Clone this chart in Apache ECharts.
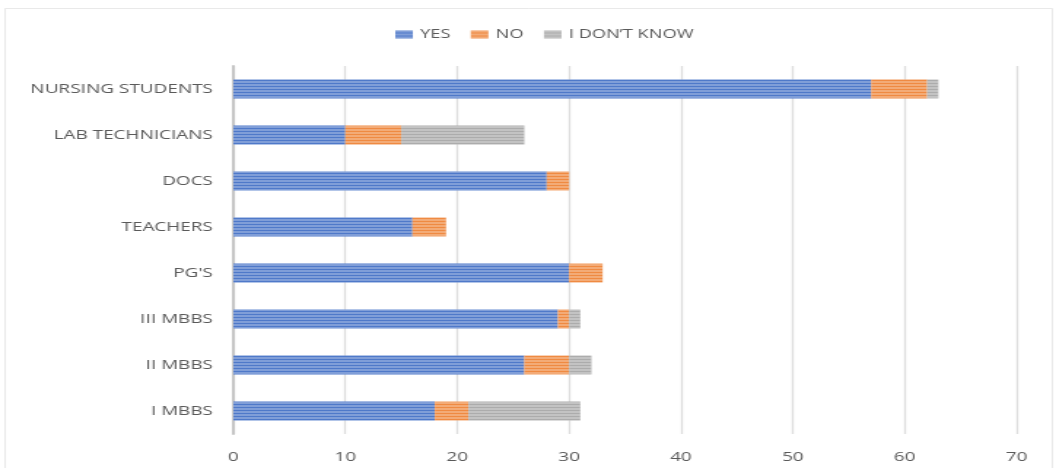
<!DOCTYPE html>
<html>
<head>
<meta charset="utf-8">
<script src="https://cdn.jsdelivr.net/npm/echarts@6/dist/echarts.min.js"></script>
<style>
  html, body { margin: 0; padding: 0; background: #ffffff; overflow: hidden; }
  /* The chart is laid out on a narrower canvas and widened to the page width */
  #chart {
    width: 724px;
    height: 468px;
    transform: scaleX(1.4586);
    transform-origin: 0 0;
  }
</style>
</head>
<body>
<div id="chart"></div>
<script>
// Respondent groups (listed bottom to top as the category axis draws them)
const categories = ['I MBBS', 'II MBBS', 'III MBBS', "PG'S", 'TEACHERS', 'DOCS', 'LAB TECHNICIANS', 'NURSING STUDENTS'];
const yesValues = [18, 26, 29, 30, 16, 28, 10, 57];
const noValues = [3, 4, 1, 3, 3, 2, 5, 5];
const dontKnowValues = [10, 2, 1, 0, 0, 0, 11, 1];
const seriesNames = ['YES', 'NO', 'I DON\u2019T KNOW'];
const xTicks = { min: 0, max: 70, interval: 10 };

const textColor = '#5a5a5a';
const fontFamily = '"Open Sans", "Liberation Sans", sans-serif';

// Thin light horizontal stripes over each bar
const stripes = {
  symbol: 'rect',
  symbolSize: 1,
  dashArrayX: [1, 0],
  dashArrayY: [2, 1],
  color: 'rgba(255,255,255,0.28)'
};

function barSeries(name, data, color) {
  return {
    name: name,
    type: 'bar',
    stack: 'total',
    data: data,
    barWidth: '41%',
    itemStyle: { color: color, decal: stripes },
    emphasis: { disabled: true }
  };
}

const chart = echarts.init(document.getElementById('chart'), null, { renderer: 'canvas' });
chart.setOption({
  animation: false,
  backgroundColor: '#ffffff',
  graphic: [{
    type: 'rect',
    shape: { x: 3.5, y: 8.5, width: 718, height: 470 },
    style: { fill: 'none', stroke: '#e3e3e3', lineWidth: 0.8 },
    silent: true,
    z: -1
  }],
  legend: {
    top: 23,
    left: 266,
    itemWidth: 12,
    itemHeight: 8,
    itemGap: 14,
    icon: 'rect',
    textStyle: { color: textColor, fontSize: 12.5, fontFamily: fontFamily },
    data: seriesNames
  },
  grid: { left: 160, right: 27, top: 66, bottom: 34 },
  xAxis: {
    type: 'value',
    min: xTicks.min,
    max: xTicks.max,
    interval: xTicks.interval,
    axisLine: { show: false },
    axisTick: { show: false },
    splitLine: { show: true, lineStyle: { color: '#dedede', width: 1.3 } },
    axisLabel: { color: textColor, fontSize: 13, fontFamily: fontFamily, margin: 17 }
  },
  yAxis: {
    type: 'category',
    data: categories,
    axisLine: { show: true, lineStyle: { color: '#c6c6c6', width: 2 } },
    axisTick: { show: false },
    axisLabel: { color: textColor, fontSize: 13, fontFamily: fontFamily, margin: 14 }
  },
  series: [
    barSeries(seriesNames[0], yesValues, '#4f79c9'),
    barSeries(seriesNames[1], noValues, '#ef8a42'),
    barSeries(seriesNames[2], dontKnowValues, '#acacac')
  ]
});
</script>
</body>
</html>
